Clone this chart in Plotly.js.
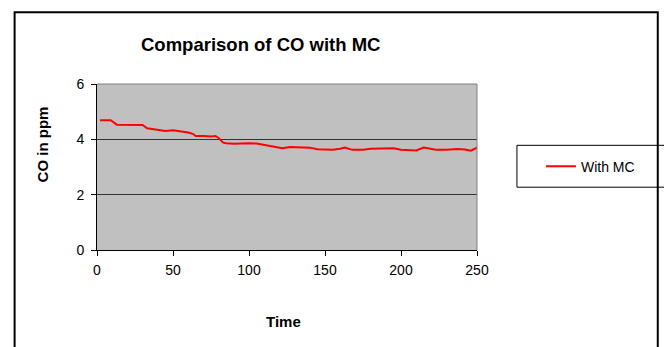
<!DOCTYPE html>
<html>
<head>
<meta charset="utf-8">
<script src="https://cdn.plot.ly/plotly-3.0.1.min.js"></script>
<style>
html,body{margin:0;padding:0;background:#fff;}
#chart{width:664px;height:347px;}
</style>
</head>
<body>
<div id="chart"></div>
<script>
const chartTitle = "Comparison of CO with MC";
const xTitle = "Time";
const yTitle = "CO in ppm";
const seriesName = "With MC";
const timeValues = [2,5,9,13,20,25,30,33,35,40,45,50,55,60,63,65,70,75,78,80,83,85,90,95,100,105,110,115,118,122,127,135,140,145,150,155,160,163,168,175,180,185,190,195,200,205,210,215,218,223,230,237,242,246,250];
const coValues = [4.69,4.69,4.69,4.53,4.52,4.51,4.52,4.40,4.38,4.33,4.30,4.33,4.30,4.25,4.20,4.12,4.12,4.10,4.12,4.05,3.88,3.86,3.84,3.86,3.86,3.85,3.80,3.74,3.72,3.68,3.72,3.70,3.70,3.64,3.63,3.62,3.66,3.70,3.62,3.62,3.66,3.66,3.68,3.68,3.62,3.60,3.60,3.70,3.68,3.62,3.62,3.65,3.63,3.59,3.70];
const xTicks = [0,50,100,150,200,250];
const yTicks = [0,2,4,6];

const W = 664, H = 347;
const m = {l: 96.5, r: 187, t: 84, b: 96.5};
const pw = W - m.l - m.r, ph = H - m.t - m.b;
const px = v => (v - m.l) / pw;
const py = v => (H - m.b - v) / ph;

const trace = {
  x: timeValues, y: coValues, type: 'scatter', mode: 'lines', name: seriesName,
  line: {color: '#ff0000', width: 2}
};

const layout = {
  width: W, height: H,
  margin: m,
  paper_bgcolor: '#ffffff',
  plot_bgcolor: '#c0c0c0',
  font: {family: 'Liberation Sans, Arial, sans-serif', color: '#000', size: 14},
  xaxis: {
    range: [0, 250], tickvals: xTicks, ticktext: xTicks.map(String),
    showgrid: false, zeroline: false, showline: true, linecolor: '#000', linewidth: 1,
    ticks: 'outside', ticklen: 5, tickcolor: '#000', ticklabelstandoff: 2,
    tickfont: {size: 14}
  },
  yaxis: {
    range: [0, 6], tickvals: yTicks, ticktext: yTicks.map(String),
    showgrid: true, gridcolor: '#333', gridwidth: 1, zeroline: false,
    showline: true, linecolor: '#000', linewidth: 1,
    ticks: 'outside', ticklen: 5, tickcolor: '#000', ticklabelstandoff: 4,
    tickfont: {size: 14}
  },
  annotations: [
    {text: '<b>' + chartTitle + '</b>', xref: 'paper', yref: 'paper', x: px(260), y: py(44), xanchor: 'center', yanchor: 'middle', showarrow: false, font: {size: 18.5}},
    {text: '<b>' + xTitle + '</b>', xref: 'paper', yref: 'paper', x: px(283), y: py(322), xanchor: 'center', yanchor: 'middle', showarrow: false, font: {size: 15}},
    {text: '<b>' + yTitle + '</b>', xref: 'paper', yref: 'paper', x: px(42), y: py(145), xanchor: 'center', yanchor: 'middle', textangle: -90, showarrow: false, font: {size: 15}}
  ],
  showlegend: true,
  legend: {x: px(541), y: py(167), xanchor: 'left', yanchor: 'middle', bgcolor: 'rgba(0,0,0,0)', borderwidth: 0, font: {size: 14}, itemwidth: 30},
  shapes: [
    {type: 'line', xref: 'paper', yref: 'paper', x0: 0, x1: 1, y0: 1, y1: 1, line: {color: '#808080', width: 1}},
    {type: 'line', xref: 'paper', yref: 'paper', x0: 1, x1: 1, y0: 0, y1: 1, line: {color: '#808080', width: 1}},
    {type: 'rect', xref: 'paper', yref: 'paper', x0: px(517), x1: px(680), y0: py(187.5), y1: py(145.5), line: {color: '#000', width: 1}},
    {type: 'rect', xref: 'paper', yref: 'paper', x0: px(14), x1: px(658), y0: py(360), y1: py(12), line: {color: '#000', width: 2}}
  ]
};

Plotly.newPlot('chart', [trace], layout, {displayModeBar: false, staticPlot: true});
</script>
</body>
</html>
